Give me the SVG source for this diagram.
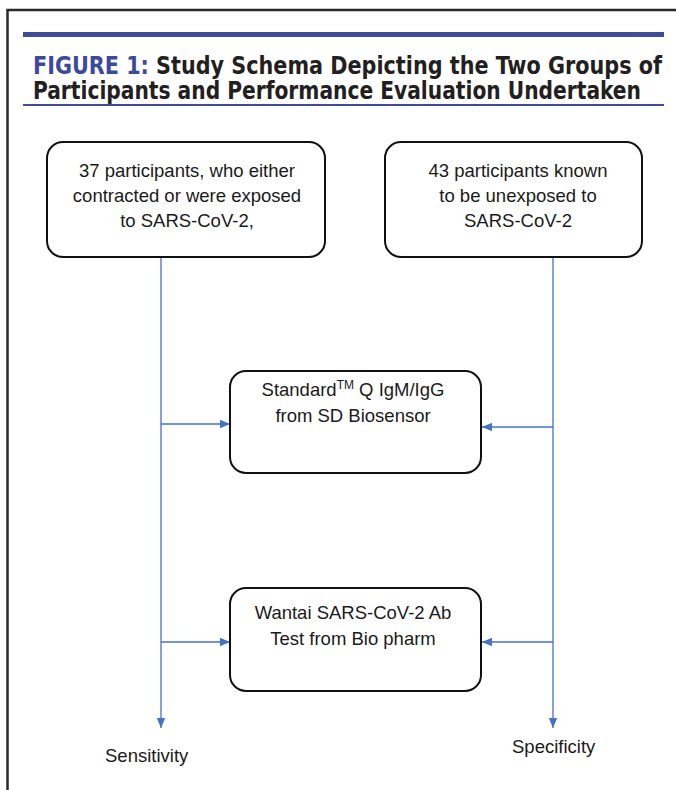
<svg xmlns="http://www.w3.org/2000/svg" width="676" height="790" viewBox="0 0 676 790">
<defs>
<style>
.frame{fill:none;stroke:#2a2a2a;stroke-width:2.5}
.node rect{fill:#fff;stroke:#111;stroke-width:2}
.node text{font-family:"Liberation Sans",Arial,sans-serif;font-size:18.5px;fill:#1a1a1a;text-anchor:middle}
.lbl{font-family:"Liberation Sans",Arial,sans-serif;font-size:18.5px;fill:#1a1a1a}
.title{font-family:"DejaVu Sans Condensed","Liberation Sans Narrow","Liberation Sans",sans-serif;font-size:25px;font-weight:bold;fill:#231f20}
.title .hl{fill:#3b4a9c}
#connectors line{stroke:#4472C4;stroke-width:1.3;fill:none}
</style>
<marker id="ah" viewBox="0 0 10 10" refX="10" refY="5" markerWidth="10" markerHeight="10" markerUnits="userSpaceOnUse" orient="auto">
<path d="M0,0.8 L10,5 L0,9.2 Z" fill="#4472C4"/>
</marker>
</defs>
<rect width="676" height="790" fill="#fff"/>
<rect class="frame" x="7.5" y="10" width="700" height="800"/>
<g id="title">
<rect x="23" y="32" width="641" height="5" fill="#3f4c99"/>
<text class="title" x="33" y="74" textLength="629" lengthAdjust="spacingAndGlyphs"><tspan class="hl">FIGURE 1:</tspan> Study Schema Depicting the Two Groups of</text>
<text class="title" x="33" y="99" textLength="608" lengthAdjust="spacingAndGlyphs">Participants and Performance Evaluation Undertaken</text>
<rect x="23" y="104" width="641" height="2" fill="#3f4c99"/>
</g>
<g id="connectors">
<line x1="161" y1="257" x2="161" y2="728" marker-end="url(#ah)"/>
<line x1="161" y1="424" x2="230" y2="424" marker-end="url(#ah)"/>
<line x1="161" y1="642" x2="230" y2="642" marker-end="url(#ah)"/>
<line x1="553" y1="257" x2="553" y2="728" marker-end="url(#ah)"/>
<line x1="553" y1="427" x2="482" y2="427" marker-end="url(#ah)"/>
<line x1="553" y1="642" x2="482" y2="642" marker-end="url(#ah)"/>
</g>
<g id="node-exposed" class="node">
<rect x="47" y="142" width="278" height="115" rx="16"/>
<text x="187" y="177">37 participants, who either</text>
<text x="187" y="202">contracted or were exposed</text>
<text x="187" y="227">to SARS-CoV-2,</text>
</g>
<g id="node-unexposed" class="node">
<rect x="385" y="142" width="257" height="115" rx="16"/>
<text x="518" y="177">43 participants known</text>
<text x="518" y="202">to be unexposed to</text>
<text x="518" y="227">SARS-CoV-2</text>
</g>
<g id="node-standardq" class="node">
<rect x="230" y="371" width="251" height="102" rx="16"/>
<text x="353" y="396">Standard<tspan font-size="12" dy="-7">TM</tspan><tspan dy="7"> Q IgM/IgG</tspan></text>
<text x="353" y="422">from SD Biosensor</text>
</g>
<g id="node-wantai" class="node">
<rect x="230" y="588" width="251" height="103" rx="16"/>
<text x="353" y="619">Wantai SARS-CoV-2 Ab</text>
<text x="353" y="645">Test from Bio pharm</text>
</g>
<text class="lbl" x="105" y="762">Sensitivity</text>
<text class="lbl" x="512" y="753">Specificity</text>
</svg>
